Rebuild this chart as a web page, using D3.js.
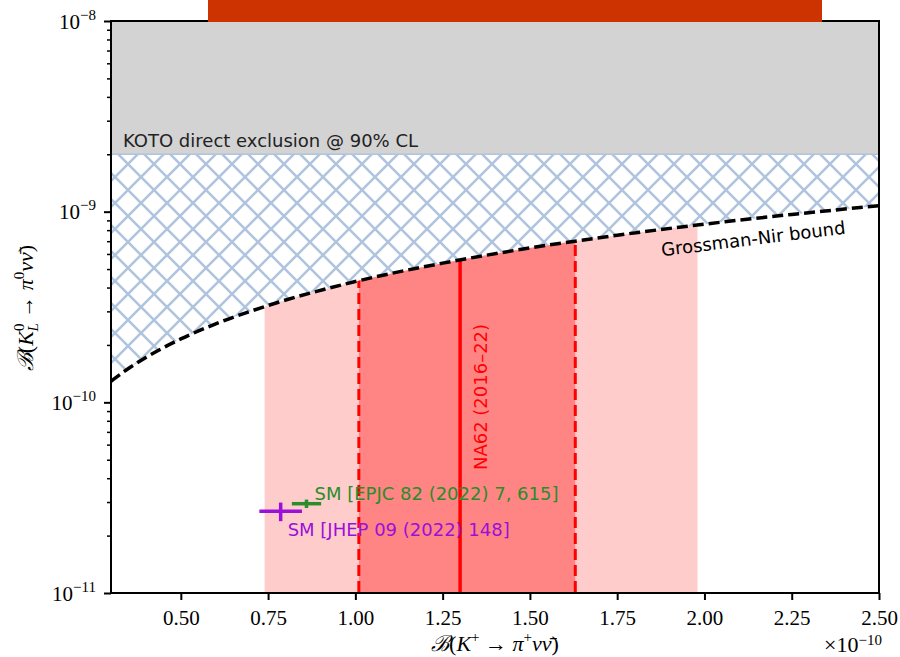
<!DOCTYPE html>
<html>
<head>
<meta charset="utf-8">
<script src="https://cdn.jsdelivr.net/npm/d3@7"></script>
<style>
  body { margin: 0; background: #fff; }
  svg { display: block; }
  .serif { font-family: "Liberation Serif", "DejaVu Serif", serif; }
  .sans { font-family: "DejaVu Sans", "Noto Sans", sans-serif; }
</style>
</head>
<body>
<div id="chart"></div>
<script>
// values in units of 1e-10 on x, absolute on y
var xDomain = [0.3, 2.5];
var yDomain = [1e-11, 1e-8];
var xTicks = [0.50, 0.75, 1.00, 1.25, 1.50, 1.75, 2.00, 2.25, 2.50];
var yMajor = [-11, -10, -9, -8];

// KOTO direct exclusion limit
var kotoLimit = 2e-9;

// Grossman-Nir bound (x in 1e-10)
var gnX = [0.30, 0.35, 0.40, 0.50, 0.60, 0.75, 1.00, 1.25, 1.50, 1.75, 2.00, 2.25, 2.50];
var gnY = [1.29e-10, 1.505e-10, 1.72e-10, 2.15e-10, 2.58e-10, 3.22e-10, 4.3e-10, 5.37e-10, 6.45e-10, 7.52e-10, 8.6e-10, 9.67e-10, 1.075e-9];

// NA62 (2016-22): central, 1 sigma, 2 sigma (x in 1e-10)
var na62Central = 1.30;
var na62Inner = [1.01, 1.63];
var na62Outer = [0.74, 1.98];

// SM predictions
var smPoints = [
  { label: "SM [EPJC 82 (2022) 7, 615]", x: 0.860, ex: 0.042, y: 2.94e-11, ey: 0.15e-11, color: "#2a8c2a" },
  { label: "SM [JHEP 09 (2022) 148]", x: 0.786, ex: 0.061, y: 2.68e-11, ey: 0.30e-11, color: "#9a10d8" }
];

var W = 900, H = 657;
var margin = { left: 111, right: 21, top: 21, bottom: 64 };

var svg = d3.select("#chart").append("svg")
    .attr("width", W)
    .attr("height", H);

var x = d3.scaleLinear().domain(xDomain).range([margin.left, W - margin.right]);
var y = d3.scaleLog().domain(yDomain).range([H - margin.bottom, margin.top]);

var x0 = x.range()[0], x1 = x.range()[1];
var yb = y.range()[0], yt = y.range()[1];

svg.append("defs").append("clipPath").attr("id", "plotclip")
  .append("rect").attr("x", x0).attr("y", yt).attr("width", x1 - x0).attr("height", yb - yt);

var gnPts = gnX.map(function (d, i) { return [d, gnY[i]]; });

// below-bound clip for the NA62 bands
var belowArea = d3.area()
    .x(function (d) { return x(d[0]); })
    .y0(yb)
    .y1(function (d) { return y(d[1]); })
    .curve(d3.curveMonotoneX);
svg.select("defs").append("clipPath").attr("id", "belowgn")
  .append("path").attr("d", belowArea(gnPts));

// hatch pattern
var hp = 26;
var pat = svg.select("defs").append("pattern")
    .attr("id", "hatch")
    .attr("patternUnits", "userSpaceOnUse")
    .attr("width", hp).attr("height", hp)
    .attr("x", x0 + 4).attr("y", yt);
pat.append("path")
    .attr("d", "M-4,-4 L" + (hp + 4) + "," + (hp + 4) + " M" + (hp + 4) + ",-4 L-4," + (hp + 4))
    .attr("stroke", "#b0c4de")
    .attr("stroke-width", 2.6);

var plot = svg.append("g").attr("clip-path", "url(#plotclip)");

// KOTO grey region
plot.append("rect")
    .attr("x", x0).attr("y", y(1e-8))
    .attr("width", x1 - x0).attr("height", y(kotoLimit) - y(1e-8))
    .attr("fill", "#d3d3d3");

// hatched region between bound and KOTO
var hatchArea = d3.area()
    .x(function (d) { return x(d[0]); })
    .y0(function (d) { return y(d[1]); })
    .y1(y(kotoLimit))
    .curve(d3.curveMonotoneX);
plot.append("path")
    .attr("d", hatchArea(gnPts))
    .attr("fill", "url(#hatch)");
plot.append("line")
    .attr("x1", x0).attr("x2", x1)
    .attr("y1", y(kotoLimit)).attr("y2", y(kotoLimit))
    .attr("stroke", "#b0c4de").attr("stroke-width", 1.5);

// NA62 bands
var bands = plot.append("g").attr("clip-path", "url(#belowgn)");
bands.append("rect")
    .attr("x", x(na62Outer[0])).attr("y", yt)
    .attr("width", x(na62Outer[1]) - x(na62Outer[0])).attr("height", yb - yt)
    .attr("fill", "#ffcccc");
bands.append("rect")
    .attr("x", x(na62Inner[0])).attr("y", yt)
    .attr("width", x(na62Inner[1]) - x(na62Inner[0])).attr("height", yb - yt)
    .attr("fill", "#ff8585");
na62Inner.forEach(function (v) {
  bands.append("line")
      .attr("x1", x(v)).attr("x2", x(v)).attr("y1", yt).attr("y2", yb)
      .attr("stroke", "#ff0000").attr("stroke-width", 3)
      .attr("stroke-dasharray", "11,5");
});
bands.append("line")
    .attr("x1", x(na62Central)).attr("x2", x(na62Central)).attr("y1", yt).attr("y2", yb)
    .attr("stroke", "#ff0000").attr("stroke-width", 3.5);

// Grossman-Nir line
var gnLine = d3.line()
    .x(function (d) { return x(d[0]); })
    .y(function (d) { return y(d[1]); })
    .curve(d3.curveMonotoneX);
plot.append("path")
    .attr("d", gnLine(gnPts))
    .attr("fill", "none")
    .attr("stroke", "#000")
    .attr("stroke-width", 3.5)
    .attr("stroke-dasharray", "11,5");

// SM points with error bars
smPoints.forEach(function (p) {
  plot.append("line")
      .attr("x1", x(p.x - p.ex)).attr("x2", x(p.x + p.ex))
      .attr("y1", y(p.y)).attr("y2", y(p.y))
      .attr("stroke", p.color).attr("stroke-width", 3.5);
  plot.append("line")
      .attr("x1", x(p.x)).attr("x2", x(p.x))
      .attr("y1", y(p.y - p.ey)).attr("y2", y(p.y + p.ey))
      .attr("stroke", p.color).attr("stroke-width", 3.5);
});

// labels inside plot
svg.append("text").attr("class", "sans")
    .attr("x", x0 + 12).attr("y", y(kotoLimit) - 7)
    .attr("font-size", 18).attr("fill", "#222")
    .text("KOTO direct exclusion @ 90% CL");

svg.append("text").attr("class", "sans")
    .attr("transform", "translate(" + (x(na62Central) + 27) + "," + 397 + ") rotate(-90)")
    .attr("text-anchor", "middle")
    .attr("font-size", 18).attr("fill", "#ff0000")
    .text("NA62 (2016\u201322)");

svg.append("text").attr("class", "sans")
    .attr("transform", "translate(754,245) rotate(-7)")
    .attr("text-anchor", "middle")
    .attr("font-size", 18).attr("fill", "#000")
    .text("Grossman-Nir bound");

svg.append("text").attr("class", "sans")
    .attr("x", x(smPoints[0].x) + 8).attr("y", y(smPoints[0].y) - 4)
    .attr("font-size", 18).attr("fill", smPoints[0].color)
    .text(smPoints[0].label);
svg.append("text").attr("class", "sans")
    .attr("x", x(smPoints[1].x) + 7).attr("y", y(smPoints[1].y) + 25)
    .attr("font-size", 18).attr("fill", smPoints[1].color)
    .text(smPoints[1].label);

// axes
var xAxis = d3.axisBottom(x).tickValues(xTicks).tickSize(7).tickPadding(10)
    .tickFormat(d3.format(".2f"));
var gx = svg.append("g").attr("transform", "translate(0," + yb + ")").call(xAxis);
gx.select(".domain").remove();
gx.selectAll(".tick line").attr("stroke-width", 2);
gx.selectAll(".tick text").attr("class", "serif").attr("font-size", 21).attr("fill", "#000");

var minorVals = [];
yMajor.slice(0, -1).forEach(function (e) {
  for (var k = 2; k <= 9; k++) minorVals.push(k * Math.pow(10, e));
});
var gyMinor = svg.append("g").attr("transform", "translate(" + x0 + ",0)")
    .call(d3.axisLeft(y).tickValues(minorVals).tickSize(4).tickFormat(""));
gyMinor.select(".domain").remove();
gyMinor.selectAll(".tick line").attr("stroke-width", 1.5);

var gy = svg.append("g").attr("transform", "translate(" + x0 + ",0)")
    .call(d3.axisLeft(y).tickValues(yMajor.map(function (e) { return Math.pow(10, e); }))
      .tickSize(7).tickPadding(8).tickFormat(""));
gy.select(".domain").remove();
gy.selectAll(".tick line").attr("stroke-width", 2);
gy.selectAll(".tick").each(function (d) {
  var t = d3.select(this).append("text").attr("class", "serif")
      .attr("x", -15).attr("y", 7).attr("text-anchor", "end")
      .attr("font-size", 21).attr("fill", "#000");
  t.append("tspan").text("10");
  t.append("tspan").attr("dy", -9).attr("font-size", 15)
      .text("\u2212" + (-Math.round(Math.log10(d))));
});

// frame
svg.append("rect")
    .attr("x", x0).attr("y", yt).attr("width", x1 - x0).attr("height", yb - yt)
    .attr("fill", "none").attr("stroke", "#000").attr("stroke-width", 2);

// axis labels
var xl = svg.append("text").attr("class", "serif")
    .attr("x", 495).attr("y", 651).attr("text-anchor", "middle")
    .attr("font-size", 22).attr("fill", "#000");
xl.append("tspan").attr("font-style", "italic").text("\u212C");
xl.append("tspan").text("(");
xl.append("tspan").attr("font-style", "italic").text("K");
xl.append("tspan").attr("dy", -9).attr("font-size", 15).text("+");
xl.append("tspan").attr("dy", 9).text(" \u2192 ");
xl.append("tspan").attr("font-style", "italic").text("\u03C0");
xl.append("tspan").attr("dy", -9).attr("font-size", 15).text("+");
xl.append("tspan").attr("dy", 9).attr("font-style", "italic").text("\u03BD\u03BD\u0304");
xl.append("tspan").text(")");

var ex = svg.append("text").attr("class", "serif")
    .attr("x", x1 + 3).attr("y", 652).attr("text-anchor", "end")
    .attr("font-size", 22).attr("fill", "#000");
ex.append("tspan").text("\u00D710");
ex.append("tspan").attr("dy", -7).attr("font-size", 15).text("\u221210");

var yl = svg.append("text").attr("class", "serif")
    .attr("transform", "translate(33,308) rotate(-90)")
    .attr("text-anchor", "middle")
    .attr("font-size", 22).attr("fill", "#000");
yl.append("tspan").attr("font-style", "italic").text("\u212C");
yl.append("tspan").text("(");
yl.append("tspan").attr("font-style", "italic").text("K");
yl.append("tspan").attr("dy", -9).attr("font-size", 15).text("0");
yl.append("tspan").attr("dx", -8).attr("dy", 14).attr("font-size", 15).attr("font-style", "italic").text("L");
yl.append("tspan").attr("dy", -5).text(" \u2192 ");
yl.append("tspan").attr("font-style", "italic").text("\u03C0");
yl.append("tspan").attr("dy", -9).attr("font-size", 15).text("0");
yl.append("tspan").attr("dy", 9).attr("font-style", "italic").text("\u03BD\u03BD\u0304");
yl.append("tspan").text(")");

// title banner, cropped at the top of the picture
svg.append("rect")
    .attr("x", 208).attr("y", 0).attr("width", 614).attr("height", 22)
    .attr("fill", "#cc3300");
svg.append("text").attr("class", "sans")
    .attr("x", 520).attr("y", -2).attr("text-anchor", "middle")
    .attr("font-size", 36).attr("font-weight", "bold").attr("fill", "#fff")
    .text("Global status of the data");
</script>
</body>
</html>
